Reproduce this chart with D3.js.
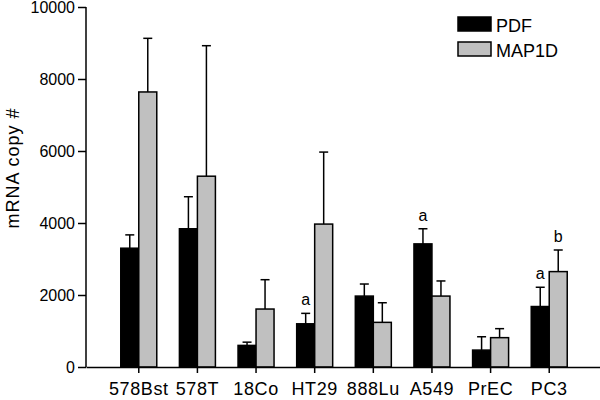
<!DOCTYPE html>
<html>
<head>
<meta charset="utf-8">
<script src="https://cdn.jsdelivr.net/npm/d3@7"></script>
<style>
  body { margin: 0; background: #fff; }
  text { font-family: "Liberation Sans", Arial, sans-serif; fill: #000; }
</style>
</head>
<body>
<div id="chart"></div>
<script>
// mRNA copy number per cell line, PDF vs MAP1D
const cellLines = ["578Bst", "578T", "18Co", "HT29", "888Lu", "A549", "PrEC", "PC3"];
const pdfMean  = [3300, 3840, 600, 1200, 1970, 3420, 470, 1680];
const pdfErr   = [370, 890, 90, 290, 335, 420, 370, 535];
const mapMean  = [7640, 5300, 1610, 3970, 1240, 1970, 815, 2650];
const mapErr   = [1490, 3625, 815, 2000, 545, 420, 250, 600];
const pdfMarks = ["", "", "", "a", "", "a", "", "a"];
const mapMarks = ["", "", "", "", "", "", "", "b"];
const yTicks = [0, 2000, 4000, 6000, 8000, 10000];
const seriesNames = ["PDF", "MAP1D"];
const seriesColors = ["#000000", "#c0c0c0"];

const width = 600, height = 400;
const margin = { top: 7, right: -2, bottom: 33, left: 86 };
const font = '"Liberation Sans", Arial, sans-serif';

const svg = d3.select("#chart").append("svg")
    .attr("width", width)
    .attr("height", height);

const x = d3.scaleBand()
    .domain(cellLines)
    .range([margin.left, width - margin.right])
    .paddingInner(0)
    .paddingOuter(0.4);

const y = d3.scaleLinear()
    .domain([0, 10000])
    .range([height - margin.bottom, margin.top]);

const barW = 18;

const rows = cellLines.map((c, i) => ({
    name: c,
    series: [
        { k: 0, v: pdfMean[i], e: pdfErr[i], m: pdfMarks[i] },
        { k: 1, v: mapMean[i], e: mapErr[i], m: mapMarks[i] }
    ]
}));

const cx = (d, s) => x(d.name) + x.bandwidth() / 2 + (s.k === 0 ? -barW : 0);

const groups = svg.append("g").selectAll("g")
    .data(rows)
    .join("g");

// error bars (upper only), drawn behind bars
groups.each(function(d) {
    const g = d3.select(this);
    d.series.forEach(s => {
        const mid = cx(d, s) + barW / 2;
        g.append("line")
            .attr("x1", mid).attr("x2", mid)
            .attr("y1", y(s.v)).attr("y2", y(s.v + s.e))
            .attr("stroke", "#000").attr("stroke-width", 1.5);
        g.append("line")
            .attr("x1", mid - 4.5).attr("x2", mid + 4.5)
            .attr("y1", y(s.v + s.e)).attr("y2", y(s.v + s.e))
            .attr("stroke", "#000").attr("stroke-width", 1.5);
        if (s.m) {
            g.append("text")
                .attr("x", mid)
                .attr("y", y(s.v + s.e) - 8)
                .attr("text-anchor", "middle")
                .style("font-size", "16px")
                .text(s.m);
        }
    });
    g.selectAll("rect")
        .data(d.series)
        .join("rect")
        .attr("x", s => cx(d, s))
        .attr("y", s => y(s.v))
        .attr("width", barW)
        .attr("height", s => y(0) - y(s.v))
        .attr("fill", s => seriesColors[s.k])
        .attr("stroke", "#000")
        .attr("stroke-width", 1.5);
});

// axes
svg.append("g")
    .attr("transform", `translate(${margin.left},0)`)
    .call(d3.axisLeft(y).tickValues(yTicks).tickSize(8).tickPadding(3).tickFormat(d3.format("d")))
    .call(g => g.selectAll("path, line").attr("stroke", "#000").attr("stroke-width", 1.5))
    .call(g => g.select(".domain").attr("d", `M-0,${y(10000)}V${y(0)}`))
    .call(g => g.selectAll("text").style("font-size", "16px").style("font-family", font));

svg.append("g")
    .attr("transform", `translate(0,${y(0)})`)
    .call(d3.axisBottom(x).tickSize(6).tickPadding(9).tickSizeOuter(0))
    .call(g => g.selectAll("path, line").attr("stroke", "#000").attr("stroke-width", 1.5))
    .call(g => g.selectAll("text").style("font-size", "18px").style("letter-spacing", "0.6px")
        .style("font-family", font));

// y axis label
svg.append("text")
    .attr("transform", `translate(19,168) rotate(-90)`)
    .attr("text-anchor", "middle")
    .style("font-size", "18px")
    .style("letter-spacing", "1px")
    .text("mRNA copy #");

// legend
const legend = svg.append("g").selectAll("g")
    .data(seriesNames)
    .join("g")
    .attr("transform", (d, i) => `translate(458,${17 + i * 25})`);

legend.append("rect")
    .attr("width", 33).attr("height", 14)
    .attr("fill", (d, i) => seriesColors[i])
    .attr("stroke", "#000").attr("stroke-width", 1.5);

legend.append("text")
    .attr("x", 38).attr("y", 14.5)
    .style("font-size", "18px")
    .text(d => d);
</script>
</body>
</html>
